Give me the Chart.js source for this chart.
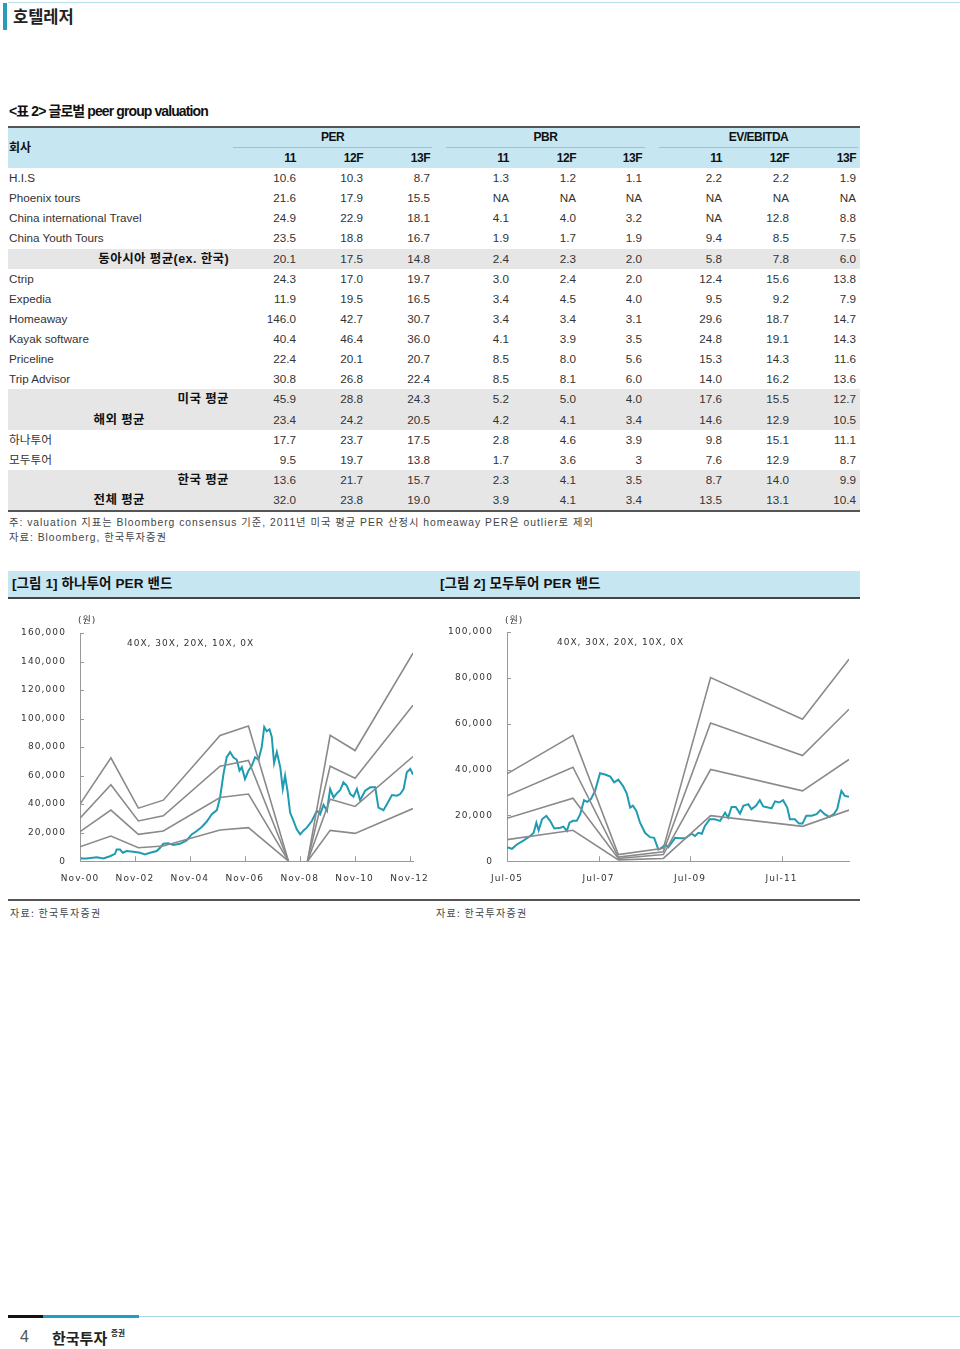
<!DOCTYPE html>
<html><head><meta charset="utf-8">
<script src="https://cdn.jsdelivr.net/npm/chart.js@4/dist/chart.umd.min.js"></script>
<style>
body{margin:0;width:960px;height:1349px;position:relative;background:#fff;font-family:"Liberation Sans","Noto Sans CJK KR",sans-serif;color:#333;overflow:hidden}
.a{position:absolute;white-space:nowrap}
canvas{position:absolute}
</style></head><body>
<canvas id="c1" width="430" height="300" style="left:0;top:600px"></canvas>
<canvas id="c2" width="430" height="300" style="left:430px;top:600px"></canvas>
<script>
// ---------- table data ----------
const rowLabels = ['H.I.S','Phoenix tours','China international Travel','China Youth Tours','동아시아 평균(ex. 한국)','Ctrip','Expedia','Homeaway','Kayak software','Priceline','Trip Advisor','미국 평균','해외 평균','하나투어','모두투어','한국 평균','전체 평균'];
const rowLevel = [0,0,0,0,2,0,0,0,0,0,0,2,1,0,0,2,1];
const per11  = ['10.6','21.6','24.9','23.5','20.1','24.3','11.9','146.0','40.4','22.4','30.8','45.9','23.4','17.7','9.5','13.6','32.0'];
const per12F = ['10.3','17.9','22.9','18.8','17.5','17.0','19.5','42.7','46.4','20.1','26.8','28.8','24.2','23.7','19.7','21.7','23.8'];
const per13F = ['8.7','15.5','18.1','16.7','14.8','19.7','16.5','30.7','36.0','20.7','22.4','24.3','20.5','17.5','13.8','15.7','19.0'];
const pbr11  = ['1.3','NA','4.1','1.9','2.4','3.0','3.4','3.4','4.1','8.5','8.5','5.2','4.2','2.8','1.7','2.3','3.9'];
const pbr12F = ['1.2','NA','4.0','1.7','2.3','2.4','4.5','3.4','3.9','8.0','8.1','5.0','4.1','4.6','3.6','4.1','4.1'];
const pbr13F = ['1.1','NA','3.2','1.9','2.0','2.0','4.0','3.1','3.5','5.6','6.0','4.0','3.4','3.9','3','3.5','3.4'];
const ev11   = ['2.2','NA','NA','9.4','5.8','12.4','9.5','29.6','24.8','15.3','14.0','17.6','14.6','9.8','7.6','8.7','13.5'];
const ev12F  = ['2.2','NA','12.8','8.5','7.8','15.6','9.2','18.7','19.1','14.3','16.2','15.5','12.9','15.1','12.9','14.0','13.1'];
const ev13F  = ['1.9','NA','8.8','7.5','6.0','13.8','7.9','14.7','14.3','11.6','13.6','12.7','10.5','11.1','8.7','9.9','10.4'];
const groupNames = ['PER','PBR','EV/EBITDA'];
const subHeads = ['11','12F','13F'];

// ---------- chart 1: 하나투어 (x = months since Nov-00) ----------
const hanaTickVals = [0,24,48,72,96,120,144];
const hanaTickLabels = ['Nov-00','Nov-02','Nov-04','Nov-06','Nov-08','Nov-10','Nov-12'];
const hanaBandX = [0,13.5,25.5,36.4,61.2,73.6,91.1,95,99.4,109.3,120.2,145.5];
const hana40x = [40000,72500,37200,42800,88200,94800,0,null,0,88200,77600,145900];
const hana30x = [30100,53600,28200,31800,66600,70600,0,null,0,66600,58100,109400];
const hana20x = [20700,35800,18800,21200,44700,47100,0,null,0,43500,38400,73400];
const hana10x = [10100,17600,9400,10600,21900,23500,0,null,0,21600,19500,36900];
const hanaPriceX = [0,0.7,2.9,7.3,10.2,13.1,15.3,16.0,17.5,18.7,20.4,23.3,26.2,28.4,30.6,33.5,35.0,36.4,38.6,40.8,43.7,46.6,48.8,51.0,53.2,55.4,57.6,59.8,61.2,62.7,64.1,65.6,67.0,68.5,69.7,70.7,72.1,73.6,75.1,76.5,78.0,79.4,80.5,81.6,82.8,83.8,84.8,86.0,87.5,88.6,89.6,90.7,91.8,93.3,94.7,96.2,97.7,99.1,101.3,103.5,104.9,106.4,107.9,109.3,110.8,112.2,113.7,115.1,116.6,118.1,119.5,121.0,122.4,124.6,126.8,129.0,130.4,132.6,134.1,136.3,138.5,139.9,141.4,142.8,144.3,145.5];
const hanaPrice = [2800,1900,1900,2800,1900,3500,5200,8200,8200,5900,7100,6600,5900,4700,5900,7100,9400,12200,12500,11300,12200,14600,18800,21200,24000,27800,32900,35800,44700,61200,72900,76500,72900,71100,63500,65900,57600,63500,67100,72900,71100,80000,94100,91100,92500,87100,68700,76500,65900,50600,60000,48900,34100,28200,22400,18800,21600,23500,28200,35300,32900,39500,35300,50600,44700,47500,49900,55300,52900,47100,45200,50600,42800,49400,51800,51800,37600,35800,40000,46400,45900,47100,50600,62400,64700,60700];

// ---------- chart 2: 모두투어 (x = months since Jul-05) ----------
const modeTickVals = [0,24,48,72];
const modeTickLabels = ['Jul-05','Jul-07','Jul-09','Jul-11'];
const modeBandX = [0,17.3,29.2,41.0,53.4,77.5,89.7];
const mode40x = [38100,54900,2900,5600,80100,61900,88100];
const mode30x = [28500,41000,1800,4100,60300,46100,66300];
const mode20x = [18700,27500,1200,2900,40000,30700,44400];
const mode10x = [9400,13500,600,1200,19900,15200,22300];
const modePriceX = [0,1.3,2.6,4.4,6.1,7.0,7.7,8.3,9.2,10.3,11.3,12.4,14.0,14.8,15.7,16.4,17.3,18.3,19.2,20.2,21.1,22.0,23.1,24.4,25.7,27.1,28.1,29.2,30.4,31.4,32.3,33.0,33.9,34.9,36.2,37.5,38.6,39.7,40.6,41.5,42.3,43.2,44.1,45.4,46.7,47.6,48.4,49.3,50.2,51.1,51.9,53.2,54.5,55.9,57.2,58.0,58.9,60.0,61.1,62.0,63.3,64.1,65.3,66.3,67.2,68.5,69.4,70.3,71.4,72.4,73.5,74.2,75.5,76.6,77.5,78.5,79.9,81.2,82.2,83.3,84.5,85.7,86.6,87.7,88.6,89.7];
const modePrice = [6100,5400,7300,9100,11000,12400,16800,13500,18300,19800,17600,14300,14600,15100,13200,16800,17600,17600,20500,26600,25900,27100,30700,38400,37800,36900,34400,35600,32900,29600,23400,24200,22000,16800,12400,10500,10200,5100,5900,7300,6100,8100,10200,10000,10000,11000,12000,11000,12400,12000,15400,18300,18300,17600,21200,19000,23700,23700,20800,24200,24900,22700,24200,26600,23900,23400,23100,26100,25600,26600,23400,18300,18300,16400,16400,19800,19800,20500,22300,20500,19300,20500,22700,30700,28500,28100];

// ---------- page text helpers ----------
function box(l,t,w,h,bg){const d=document.createElement('div');d.className='a';d.style.cssText=`left:${l}px;top:${t}px;width:${w}px;height:${h}px;background:${bg}`;document.body.appendChild(d);return d;}
function txt(s,x,yc,css,align){const d=document.createElement('div');d.className='a';d.textContent=s;const lh=20;
  let pos = align==='right' ? `right:${960-x}px;text-align:right;` : align==='center' ? `left:${x-150}px;width:300px;text-align:center;` : `left:${x}px;`;
  d.style.cssText=pos+`top:${yc-lh/2}px;height:${lh}px;line-height:${lh}px;`+(css||'');document.body.appendChild(d);return d;}

// header
box(8,2,952,1,'#b8dde8');
box(3,3,4,27,'#2a9bb8');
txt('호텔레저',13,16,'font-family:"Noto Sans CJK KR";font-weight:bold;font-size:16.5px;color:#222');
txt('<표 2> 글로벌 peer group valuation',9,111,'font-family:"Liberation Sans","Noto Sans CJK KR";font-weight:bold;font-size:14px;letter-spacing:-0.9px;color:#111');

// table
const colRight=[296,363,430,509,576,642,722,789,856];
const cols=[per11,per12F,per13F,pbr11,pbr12F,pbr13F,ev11,ev12F,ev13F];
box(8,126,852,2,'#555');
box(8,128,852,40,'#c6e6f1');
txt('회사',9,147,'font-family:"Noto Sans CJK KR";font-weight:bold;font-size:12px;color:#111');
const groupSpan=[[233,432],[446,645],[659,858]];
groupSpan.forEach((g,i)=>{
  box(g[0],147,g[1]-g[0],1,'#8fc8da');
  txt(groupNames[i],(g[0]+g[1])/2,137,'font-weight:bold;font-size:12px;letter-spacing:-0.5px;color:#111','center');
  subHeads.forEach((s,j)=>txt(s,colRight[i*3+j],158,'font-weight:bold;font-size:12px;letter-spacing:-0.5px;color:#111','right'));
});
const rowTop=168, rowH=20.125;
rowLabels.forEach((lab,i)=>{
  const t=rowTop+i*rowH, yc=t+rowH/2;
  if(rowLevel[i]>0) box(8,t,852,rowH,'#e6e6e6');
  if(rowLevel[i]===0) txt(lab,9,yc,'font-size:11.7px;color:#333');
  else txt(lab,rowLevel[i]===2?229:145,yc,'font-family:"Liberation Sans","Noto Sans CJK KR";font-weight:bold;font-size:12.5px;letter-spacing:0.4px;color:#111','right');
  cols.forEach((c,j)=>txt(c[i],colRight[j],yc,'font-size:11.7px;color:#333','right'));
});
box(8,510,852,2,'#555');
txt('주: valuation 지표는 Bloomberg consensus 기준, 2011년 미국 평균 PER 산정시 homeaway PER은 outlier로 제외',9,523,'font-size:10.3px;letter-spacing:1px;color:#444');
txt('자료: Bloomberg, 한국투자증권',9,538,'font-size:10.3px;letter-spacing:1px;color:#444');

// figure title bar
box(8,571,852,27,'#c6e7f2');
box(8,597,852,2,'#444');
txt('[그림 1] 하나투어 PER 밴드',12,584,'font-family:"Liberation Sans","Noto Sans CJK KR";font-weight:bold;font-size:13.5px;letter-spacing:0.1px;color:#111');
txt('[그림 2] 모두투어 PER 밴드',440,584,'font-family:"Liberation Sans","Noto Sans CJK KR";font-weight:bold;font-size:13.5px;letter-spacing:0.1px;color:#111');
// chart annotations
const annCss='font-family:"DejaVu Sans","Noto Sans CJK KR";font-size:9px;letter-spacing:1px;color:#333';
txt('(원)',78,620,annCss);
txt('40X, 30X, 20X, 10X, 0X',127,643,annCss);
txt('(원)',505,620,annCss);
txt('40X, 30X, 20X, 10X, 0X',557,642,annCss);
box(8,899,852,2,'#555');
txt('자료: 한국투자증권',10,913,'font-family:"Noto Sans CJK KR";font-size:10px;letter-spacing:1.3px;color:#444');
txt('자료: 한국투자증권',436,913,'font-family:"Noto Sans CJK KR";font-size:10px;letter-spacing:1.3px;color:#444');

// footer
box(8,1315,35,3,'#111');
box(43,1315,96,3,'#1e9fc6');
box(139,1316,821,1,'#a9d8e8');
txt('4',20,1337,'font-size:16px;color:#555');
txt('한국투자',52,1338,'font-family:"Noto Sans CJK KR";font-weight:bold;font-size:15px;color:#222');
txt('증권',111,1333,'font-family:"Noto Sans CJK KR";font-weight:bold;font-size:7.5px;color:#222');

// ---------- charts ----------
const spacing={id:'spacing',beforeUpdate(c){c.ctx.letterSpacing='1.1px';},beforeDraw(c){c.ctx.letterSpacing='1.1px';}};
const innerTicks={id:'innerTicks',afterDatasetsDraw(chart){
  const {ctx,chartArea:a,scales:{x,y}}=chart;
  ctx.save();ctx.strokeStyle='#999';ctx.lineWidth=1;ctx.beginPath();
  y.ticks.forEach(t=>{const py=Math.round(y.getPixelForValue(t.value))+0.5;ctx.moveTo(a.left,py);ctx.lineTo(a.left+4,py);});
  x.ticks.forEach(t=>{const px=Math.round(x.getPixelForValue(t.value))+0.5;ctx.moveTo(px,a.bottom);ctx.lineTo(px,a.bottom-5);});
  ctx.stroke();ctx.restore();}};
function pts(xs,ys){return xs.map((x,i)=>({x:x,y:ys[i]}));}
function noPad(s){s.paddingLeft=0;s.paddingRight=0;s.paddingTop=0;s.paddingBottom=0;}
function makeChart(id,bandX,bands,priceX,price,xMax,tickVals,tickLabels,yMax,yAxisW,padTop,padRight){
  const font={family:'DejaVu Sans',size:9};
  new Chart(document.getElementById(id),{
    type:'line',
    data:{datasets:[
      ...bands.map(b=>({data:pts(bandX,b),borderColor:'#8a8a8a',borderWidth:1.6,pointRadius:0,spanGaps:false,tension:0})),
      {data:pts(priceX,price),borderColor:'#1f9bb2',borderWidth:2,pointRadius:0,tension:0}
    ]},
    options:{animation:false,responsive:false,devicePixelRatio:1,
      layout:{padding:{top:padTop,right:padRight,bottom:4,left:0}},
      plugins:{legend:{display:false},tooltip:{enabled:false}},
      scales:{
        x:{type:'linear',min:0,max:xMax,afterBuildTicks:s=>{s.ticks=tickVals.map(v=>({value:v}));},afterFit:noPad,
          ticks:{callback:(v,i)=>tickLabels[i],color:'#333',font:font,padding:12,maxRotation:0,autoSkip:false},
          grid:{display:false,drawTicks:false},border:{color:'#999'}},
        y:{min:0,max:yMax,afterFit:s=>{s.width=yAxisW;noPad(s);},
          ticks:{stepSize:20000,callback:v=>v.toLocaleString('en-US'),color:'#333',font:font,padding:14},
          grid:{display:false,drawTicks:false},border:{color:'#999'}}
      }},
    plugins:[spacing,innerTicks]
  });
}
makeChart('c1',hanaBandX,[hana40x,hana30x,hana20x,hana10x],hanaPriceX,hanaPrice,145.5,hanaTickVals,hanaTickLabels,160000,80,33,17);
makeChart('c2',modeBandX,[mode40x,mode30x,mode20x,mode10x],modePriceX,modePrice,89.7,modeTickVals,modeTickLabels,100000,77,32,11);
</script>
</body></html>
